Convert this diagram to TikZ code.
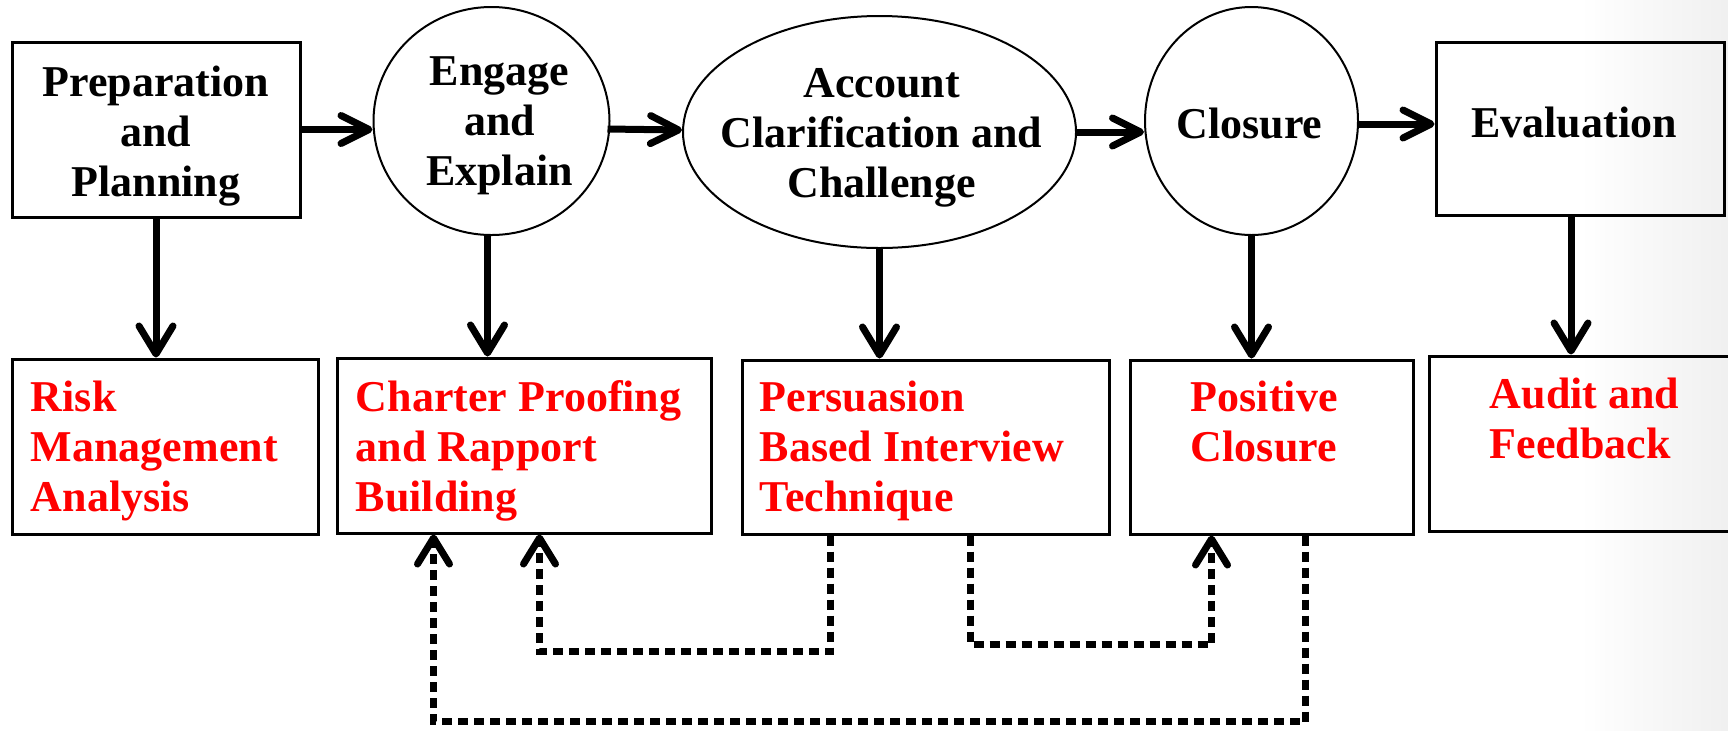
\documentclass[tikz,border=0pt]{standalone}
\usepackage{fontspec}
\setmainfont{Liberation Serif}
\usetikzlibrary{arrows.meta,calc,shapes.geometric}
\begin{document}
\begin{tikzpicture}[x=0.5pt,y=-0.5pt,
  box/.style={draw=black,line width=1.5pt,rectangle,inner sep=0pt},
  oval/.style={draw=black,line width=1pt,ellipse,inner sep=0pt},
  toptext/.style={font=\fontsize{22}{25}\selectfont\bfseries,align=center,text=black,inner sep=0pt},
  redtext/.style={font=\fontsize{22}{25}\selectfont\bfseries,align=left,text=red,anchor=north west,inner sep=0pt},
  flow/.style={line width=3.5pt,-{Straight Barb[length=14pt,width=14pt,line cap=round,line join=round]}},
  down/.style={line width=3.5pt,-{Straight Barb[length=14pt,width=17pt,line cap=round,line join=round]}},
  dots/.style={line width=3.5pt,dash pattern=on 5pt off 3pt,-{Straight Barb[length=13pt,width=16pt,line cap=round,line join=round]}}
]
\useasboundingbox (0,0) rectangle (1728,730);
\clip (0,0) rectangle (1728,730);
\shade[left color=white,right color=black!6] (1580,0) rectangle (1728,730);

% top row
\node[box,minimum width=144pt,minimum height=87.5pt] (prep) at (156,129.5) {};
\node[toptext] at ($(prep.center)+(0,7)$) {Preparation\\and\\Planning};
\node[oval,minimum width=118pt,minimum height=114pt] (engage) at (491.5,121) {};
\node[toptext] at ($(engage.center)+(8,5)$) {Engage\\and\\Explain};
\node[oval,minimum width=196.5pt,minimum height=116pt] (account) at (879.5,132) {};
\node[toptext] at ($(account.center)+(2,6)$) {Account\\Clarification and\\Challenge};
\node[oval,minimum width=106.5pt,minimum height=114pt] (closure) at (1251.5,121) {};
\node[toptext] at ($(closure.center)+(-2,2)$) {Closure};
\node[box,minimum width=144pt,minimum height=86.5pt] (eval) at (1580,128.5) {};
\node[toptext] at ($(eval.center)+(-6,-6)$) {Evaluation};

% bottom row
\node[box,minimum width=153pt,minimum height=87.5pt] (risk) at (165,446.5) {};
\node[redtext] at ($(risk.north west)+(20,23)$) {Risk\\Management\\Analysis};
\node[box,minimum width=187pt,minimum height=87.5pt] (charter) at (524,445.5) {};
\node[redtext] at ($(charter.north west)+(20,24)$) {Charter Proofing\\and Rapport\\Building};
\node[box,minimum width=183.5pt,minimum height=87pt] (pers) at (925.5,447) {};
\node[redtext] at ($(pers.north west)+(19,22)$) {Persuasion\\Based Interview\\Technique};
\node[box,minimum width=141.5pt,minimum height=87pt] (pos) at (1271.5,447) {};
\node[redtext] at ($(pos.north west)+(62,22)$) {Positive\\Closure};
\node[box,minimum width=151.5pt,minimum height=87.5pt] (audit) at (1580.5,443.5) {};
\node[redtext] at ($(audit.north west)+(62,23)$) {Audit and\\Feedback};

% horizontal arrows
\draw[flow] (prep.east) -- (prep.east -| engage.west);
\draw[flow] ($(engage.east)+(-3,8)$) -- ($(account.west)+(0,-2)$);
\draw[flow] (account.east) -- (account.east -| closure.west);
\draw[flow] ($(closure.east)+(0,3)$) -- ($(closure.east -| eval.west)+(0,3)$);

% down arrows
\draw[down] (prep.south) -- (prep.south |- risk.north);
\draw[down] ($(engage.south)+(-4,0)$) -- ($(engage.south |- charter.north)+(-4,0)$);
\draw[down] (account.south) -- (account.south |- pers.north);
\draw[down] (closure.south) -- (closure.south |- pos.north);
\draw[down] ($(eval.south)+(-9,0)$) -- ($(eval.south |- audit.north)+(-9,0)$);

% dotted feedback
\draw[dots] ($(pers.south west)+(90,0)$) -- ++(0,116) -| ($(charter.south west)+(204,0)$);
\draw[dots] ($(pers.south west)+(230,0)$) -- ++(0,109) -| ($(pos.south west)+(83,0)$);
\draw[dots] ($(pos.south west)+(177,0)$) -- ++(0,186) -| ($(charter.south west)+(98,0)$);
\end{tikzpicture}
\end{document}
